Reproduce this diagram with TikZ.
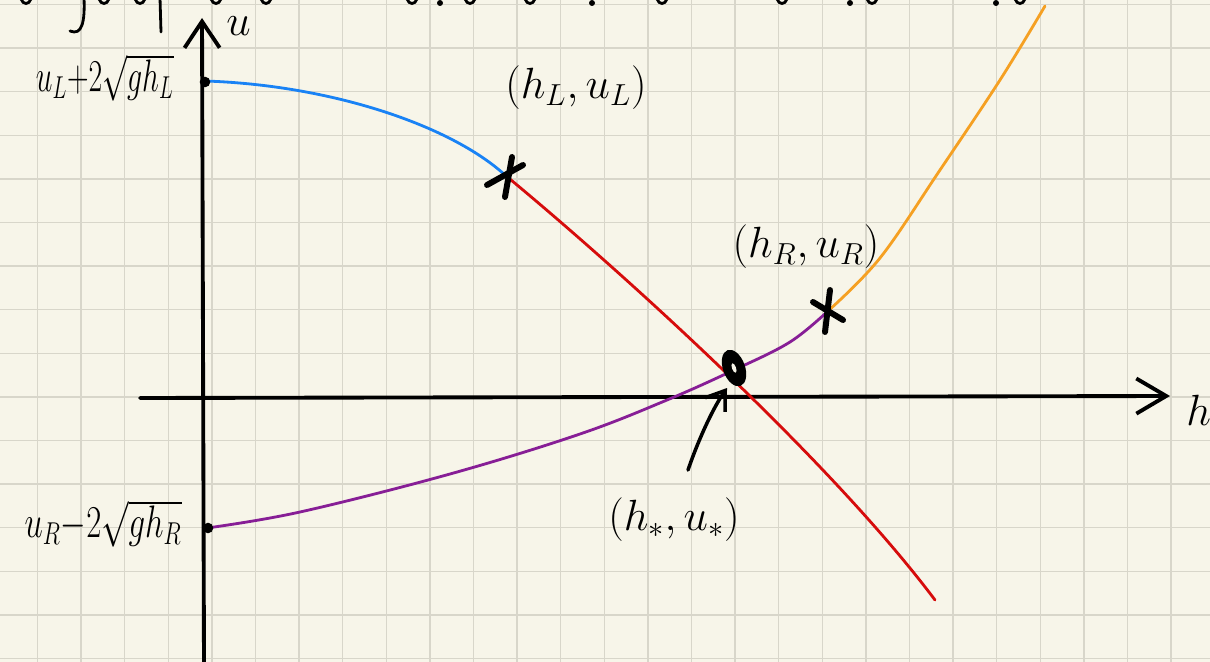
\documentclass[tikz,border=0pt]{standalone}
\usetikzlibrary{arrows.meta}
\definecolor{paper}{RGB}{247,245,233}
\definecolor{gridc}{RGB}{216,214,202}
\definecolor{cblue}{RGB}{25,130,245}
\definecolor{cred}{RGB}{214,12,12}
\definecolor{cpurple}{RGB}{135,30,150}
\definecolor{corange}{RGB}{245,160,35}
\begin{document}
\begin{tikzpicture}[x=0.02cm,y=-0.02cm,
  axis/.style={line width=2.2pt,line cap=round},
  curve/.style={line width=1.6pt,line cap=round},
  ink/.style={line width=3.4pt,line cap=round},
  pen/.style={line width=1.6pt,line cap=round},
  lab/.style={inner sep=0pt,font=\fontsize{23}{27}\selectfont},
  sidelab/.style={inner sep=0pt,font=\fontsize{20.74}{25}\selectfont},
  dotmark/.style={circle,fill=black,inner sep=0pt,minimum size=6pt}]
\useasboundingbox (0,0) rectangle (1210,662);
\fill[paper] (0,0) rectangle (1210,662);
\foreach \i in {0,...,27} \draw[gridc,line width=0.8pt] ({37.5+43.6*\i},0) -- ({37.5+43.6*\i},662);
\foreach \j in {0,...,15} \draw[gridc,line width=0.8pt] (0,{4.5+43.6*\j}) -- (1210,{4.5+43.6*\j});

% cut-off handwriting at the top edge
\draw[pen] (84,-2) .. controls (85,22) and (82,36) .. (70,31);
\draw[pen] (160,-2) -- (161,32);
\foreach \x in {26,104,140,216,266,412,470,530,662,782,872,1020}
  \draw[pen] (\x-5,-1) .. controls (\x-3,5) and (\x+3,5) .. (\x+5,-1);
\foreach \x in {440,592,850,996}
  \fill (\x,3) circle [radius=3];

% axes
\coordinate (ybot) at (204,665);
\coordinate (ytop) at (202,18);
\coordinate (xleft) at (140,398);
\coordinate (xright) at (1170,396);
\draw[axis,-{Straight Barb[length=15pt,width=20pt]}] (ybot) -- (ytop);
\draw[axis,-{Straight Barb[length=17pt,width=20pt]}] (xleft) -- (xright);
\node[anchor=west,inner sep=0pt,font=\fontsize{24}{28}\selectfont] (ulab) at (226,26) {$u$};
\node[anchor=west,inner sep=0pt,font=\fontsize{34}{38}\selectfont] (hlab) at (1186,410) {$h$};

% key points
\coordinate (xL) at (505,175);
\coordinate (xR) at (828,311);
\coordinate (star) at (734,368);
\coordinate (redend) at (935,600);
\coordinate (orend) at (1045,6);

% curves
\draw[curve,cblue] (205,81) .. controls (330,85) and (450,125) .. (xL);
\draw[curve,cred] (xL) .. controls (620,270) and (830,460) .. (redend);
\draw[curve,cpurple] plot[smooth,tension=0.6] coordinates {(207,528) (300,512) (450,474) (580,434) (667,400) (734,370) (790,342) (xR)};
\draw[curve,corange] plot[smooth,tension=0.6] coordinates {(xR) (880,258) (940,170) (1000,80) (orend)};

% marks
\node[dotmark] (uLpt) at (205,82) {};
\node[dotmark] (uRpt) at (208,528) {};
\draw[ink] ([shift={(7,-18)}]xL) -- ([shift={(0,22)}]xL);
\draw[ink] ([shift={(-18,10)}]xL) -- ([shift={(18,-10)}]xL);
\draw[ink] ([shift={(2,-21)}]xR) -- ([shift={(-3,21)}]xR);
\draw[ink] ([shift={(-15,-9)}]xR) -- ([shift={(15,9)}]xR);
\fill[black,rotate around={20:(star)}] (star) ellipse [x radius=11, y radius=19];
\fill[paper,rotate around={20:(star)}] (star) ellipse [x radius=2, y radius=5];

% labels
\node[lab] (labL) at (576,88) {$(h_L,u_L)$};
\node[lab] (labR) at (806,247) {$(h_R,u_R)$};
\node[lab] (labS) at (674,520) {$(h_*,u_*)$};
\node[sidelab,anchor=east] (leftL) at (174,78) {\scalebox{0.82}[1.25]{$u_L{+}2\sqrt{gh_L}$}};
\node[sidelab,anchor=east] (leftR) at (182,524) {\scalebox{0.9}[1.25]{$u_R{-}2\sqrt{gh_R}$}};

\coordinate (arrS) at (688,470);
\coordinate (arrE) at (727,388);
\draw[pen,line width=2pt,-{Straight Barb[length=10pt,width=14pt]}] (arrS) .. controls (700,435) and (715,405) .. (arrE);
\end{tikzpicture}
\end{document}
